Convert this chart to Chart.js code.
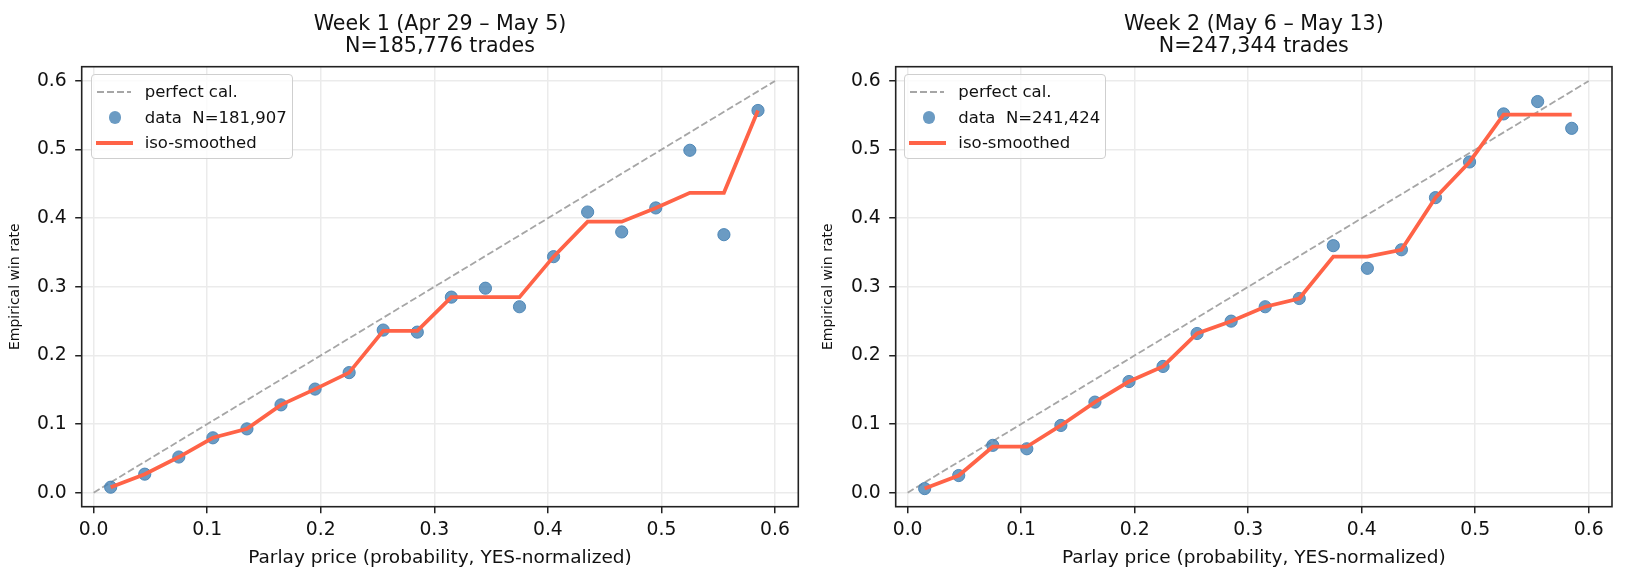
<!DOCTYPE html>
<html>
<head>
<meta charset="utf-8">
<script src="https://cdn.jsdelivr.net/npm/chart.js@4.4.1/dist/chart.umd.min.js"></script>
<style>
    body { margin: 0; background: #fff; width: 1626px; height: 584px; overflow: hidden; position: relative; font-family: 'DejaVu Sans', sans-serif; }
    .panel { position: absolute; top: 0; width: 813px; height: 584px; }
    .legend { position: absolute; top: 74.3px; width: 202px; height: 84.4px; box-sizing: border-box; border: 1.3px solid #cfcfcf; border-radius: 4px; background: rgba(255,255,255,0.8); font-size: 16.5px; color: #111; }
    .row { position: absolute; left: 0; height: 24px; width: 100%; white-space: pre; }
    .row span.txt { position: absolute; left: 53px; top: 0; line-height: 24px; }
    .dash { position: absolute; left: 5px; top: 11px; width: 34px; height: 1.9px; background: repeating-linear-gradient(to right, #a6a6a6 0 7px, transparent 7px 10px); }
    .dot { position: absolute; left: 17.5px; top: 5.8px; width: 12.3px; height: 12.3px; border-radius: 50%; background: rgba(70,130,180,0.8); }
    .solid { position: absolute; left: 4px; top: 10px; width: 37px; height: 4px; background: #ff6347; }
</style>
</head>
<body>
<div class="panel" id="panel1" style="left:0">
    <canvas id="week1Chart"></canvas>
    <div class="legend" style="left:90.7px">
        <div class="row" style="top:4.4px"><div class="dash"></div><span class="txt">perfect cal.</span></div>
        <div class="row" style="top:30.4px"><div class="dot"></div><span class="txt">data  N=181,907</span></div>
        <div class="row" style="top:55.4px"><div class="solid"></div><span class="txt">iso-smoothed</span></div>
    </div>
</div>
<div class="panel" id="panel2" style="left:813px">
    <canvas id="week2Chart"></canvas>
    <div class="legend" style="left:91.3px">
        <div class="row" style="top:4.4px"><div class="dash"></div><span class="txt">perfect cal.</span></div>
        <div class="row" style="top:30.4px"><div class="dot"></div><span class="txt">data  N=241,424</span></div>
        <div class="row" style="top:55.4px"><div class="solid"></div><span class="txt">iso-smoothed</span></div>
    </div>
</div>
<script>
// Bin centres (price) and observed win rates per week
const priceBins = [0.015, 0.045, 0.075, 0.105, 0.135, 0.165, 0.195, 0.225, 0.255, 0.285,
                   0.315, 0.345, 0.375, 0.405, 0.435, 0.465, 0.495, 0.525, 0.555, 0.585];
const week1Rate = [0.008, 0.027, 0.052, 0.080, 0.093, 0.128, 0.151, 0.175, 0.237, 0.234,
                   0.285, 0.298, 0.271, 0.344, 0.409, 0.380, 0.415, 0.499, 0.376, 0.557];
const week1Iso  = [0.008, 0.027, 0.052, 0.080, 0.093, 0.128, 0.151, 0.175, 0.236, 0.236,
                   0.285, 0.285, 0.285, 0.344, 0.395, 0.395, 0.415, 0.437, 0.437, 0.557];
const week2Rate = [0.006, 0.025, 0.069, 0.064, 0.098, 0.132, 0.162, 0.184, 0.232, 0.250,
                   0.271, 0.283, 0.360, 0.327, 0.354, 0.430, 0.482, 0.552, 0.570, 0.531];
const week2Iso  = [0.006, 0.025, 0.067, 0.067, 0.098, 0.132, 0.162, 0.184, 0.232, 0.250,
                   0.271, 0.283, 0.344, 0.344, 0.354, 0.430, 0.482, 0.551, 0.551, 0.551];
const diagX = [0, 0.6];
const diagY = [0, 0.6];
const xTicks = [0, 0.1, 0.2, 0.3, 0.4, 0.5, 0.6];
const yTicks = [0, 0.1, 0.2, 0.3, 0.4, 0.5, 0.6];

Chart.defaults.font.family = "'DejaVu Sans', sans-serif";
Chart.defaults.color = '#111';

// black box around the plot area
const framePlugin = {
    id: 'frame',
    afterDraw(chart) {
        const { ctx, chartArea: a } = chart;
        ctx.save();
        ctx.strokeStyle = '#222';
        ctx.lineWidth = 1.6;
        ctx.strokeRect(a.left, a.top, a.right - a.left, a.bottom - a.top);
        ctx.restore();
    }
};

function toPoints(xs, ys) {
    return xs.map((x, i) => ({ x: x, y: ys[i] }));
}

function makeChart(canvasId, rates, iso, titleLines, geo) {
    const ctx = document.getElementById(canvasId);
    const grid = { color: '#ebebeb', lineWidth: 1.5, tickColor: '#222', tickLength: 6.5, tickWidth: 1.5 };

    new Chart(ctx, {
        type: 'scatter',
        data: {
            datasets: [
                {
                    label: 'iso-smoothed',
                    data: toPoints(priceBins, iso),
                    showLine: true,
                    borderColor: '#ff6347',
                    borderWidth: 3.75,
                    pointRadius: 0,
                    order: 0
                },
                {
                    label: 'data',
                    data: toPoints(priceBins, rates),
                    pointRadius: 6.1,
                    backgroundColor: 'rgba(70,130,180,0.8)',
                    borderColor: 'rgba(70,130,180,0.9)',
                    borderWidth: 1,
                    order: 1
                },
                {
                    label: 'perfect cal.',
                    data: toPoints(diagX, diagY),
                    showLine: true,
                    borderColor: '#a6a6a6',
                    borderWidth: 1.8,
                    borderDash: [7, 3],
                    pointRadius: 0,
                    order: 2
                }
            ]
        },
        options: {
            responsive: true,
            maintainAspectRatio: false,
            animation: false,
            layout: { padding: { left: 0, right: 813 - geo.right, top: 0, bottom: 0 } },
            plugins: {
                legend: { display: false },
                tooltip: { enabled: false },
                title: {
                    display: true,
                    fullSize: false,
                    text: titleLines,
                    color: '#111',
                    font: { size: 20.6, weight: 'normal', lineHeight: '22px' },
                    padding: { top: 14, bottom: 8.7 }
                }
            },
            scales: {
                x: {
                    type: 'linear',
                    min: -0.0105,
                    max: 0.6205,
                    afterBuildTicks: s => { s.ticks = xTicks.map(v => ({ value: v })); },
                    afterFit: s => { s.height = 77.3; },
                    grid: grid,
                    border: { display: false },
                    ticks: {
                        font: { size: 18.75 },
                        color: '#111',
                        padding: 6,
                        maxRotation: 0,
                        autoSkip: false,
                        callback: v => v.toFixed(1)
                    },
                    title: {
                        display: true,
                        text: 'Parlay price (probability, YES-normalized)',
                        color: '#111',
                        font: { size: 18.5 },
                        padding: { top: 0, bottom: 14.9 }
                    }
                },
                y: {
                    type: 'linear',
                    min: -0.0204,
                    max: 0.6208,
                    afterBuildTicks: s => { s.ticks = yTicks.map(v => ({ value: v })); },
                    afterFit: s => { s.width = geo.left; },
                    grid: grid,
                    border: { display: false },
                    ticks: {
                        font: { size: 18.75 },
                        color: '#111',
                        padding: 8.5,
                        autoSkip: false,
                        callback: v => v.toFixed(1)
                    },
                    title: {
                        display: true,
                        text: 'Empirical win rate',
                        color: '#111',
                        font: { size: 14 },
                        padding: { top: 6.6, bottom: 0 }
                    }
                }
            }
        },
        plugins: [framePlugin]
    });
}

document.addEventListener('DOMContentLoaded', function() {
    makeChart('week1Chart', week1Rate, week1Iso,
        ['Week 1 (Apr 29 \u2013 May 5)', 'N=185,776 trades'], { left: 81.7, right: 798.3 });
    makeChart('week2Chart', week2Rate, week2Iso,
        ['Week 2 (May 6 \u2013 May 13)', 'N=247,344 trades'], { left: 82.7, right: 799 });
});
</script>
</body>
</html>
